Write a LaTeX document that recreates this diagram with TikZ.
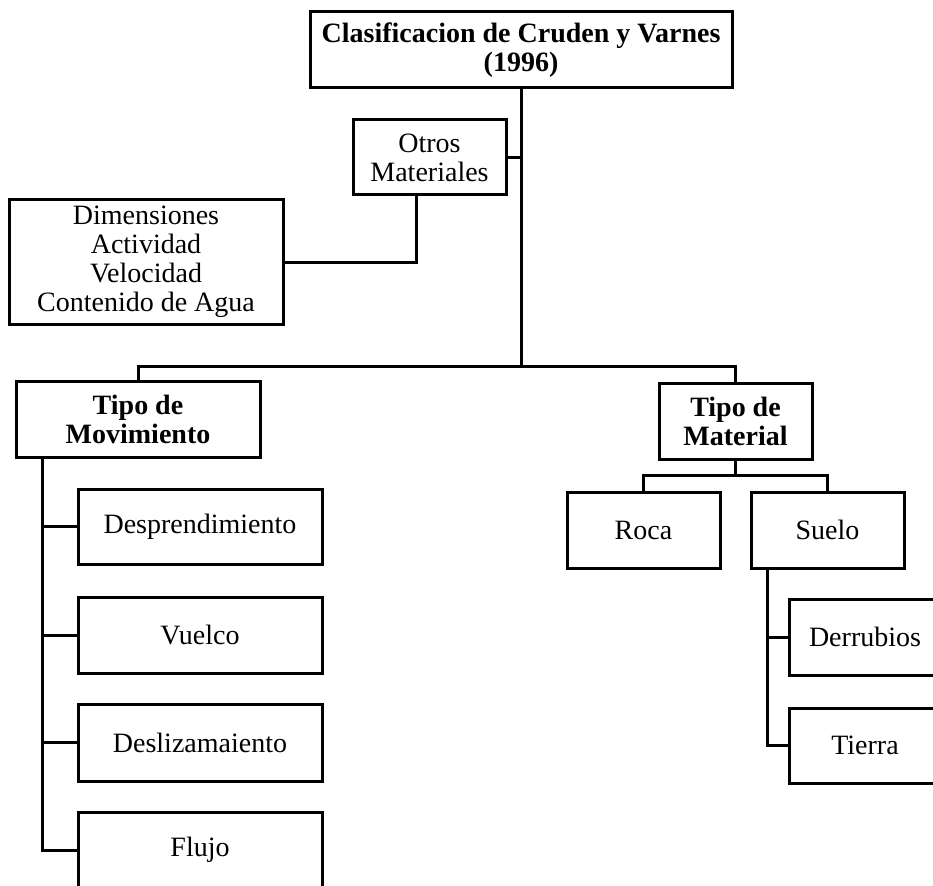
\documentclass[tikz,border=0pt]{standalone}
\usepackage{fontspec}
\setmainfont{Liberation Serif}
\usetikzlibrary{positioning}

\begin{document}
\begin{tikzpicture}[
    x=1pt, y=-1pt,
    line width=3pt,
    box/.style={rectangle, draw=black, inner sep=0pt, align=center, text centered, minimum height=76pt, font=\fontsize{28}{29}\selectfont},
    headbox/.style={box, font=\fontsize{28}{29}\selectfont\bfseries},
    itembox/.style={box, minimum width=244pt},
    smallbox/.style={box, minimum width=153pt}
]
\useasboundingbox (0,0) rectangle (933,885);

% Title
\node[headbox, minimum width=422pt] (title) at (521,50) {Clasificacion de Cruden y Varnes\\(1996)};

% Other materials
\node[smallbox, minimum height=75pt] (otros) at (429.5,157.5) {Otros\\Materiales};
\node[box, minimum width=274pt, minimum height=124pt] (dims) at (146,262) {Dimensiones\\Actividad\\Velocidad\\Contenido de Agua};

% Main branches
\node[headbox, minimum width=244pt] (mov) at (138,419) {Tipo de\\Movimiento};
\node[headbox, minimum width=153pt] (mat) at (735.5,421) {Tipo de\\Material};

% Movement types
\node[itembox, minimum height=75pt] (desp) at (200,526.5) {Desprendimiento};
\node[itembox] (vuelco) at (200,635) {Vuelco};
\node[itembox, minimum height=77pt] (desl) at (200,742.5) {Deslizamaiento};
\node[itembox] (flujo) at (200,850) {Flujo};

% Material types
\node[smallbox] (roca) at (643.5,530) {Roca};
\node[smallbox] (suelo) at (827.5,530) {Suelo};
\node[box, minimum width=152pt] (derr) at (865,637) {Derrubios};
\node[box, minimum width=152pt, minimum height=75pt] (tierra) at (865,745.5) {Tierra};

% Connectors
\coordinate (hub) at (521,366);
\draw (title.south) -- (hub);
\draw (mov.north) |- (hub) -| (mat.north);
\draw (otros.east) -- (otros.east -| title.south);
\draw (dims.east) -| ([xshift=-13.5pt]otros.south);

\coordinate (matjoin) at (735.5,475);
\draw (mat.south) -- (matjoin);
\draw (roca.north) |- (matjoin) -| (suelo.north);

\coordinate (sstem) at ([xshift=-60.5pt]suelo.south);
\draw (sstem) |- (tierra.west);
\draw (derr.west) -- (derr.west -| sstem);

\coordinate (mstem) at ([xshift=-96pt]mov.south);
\draw (mstem) |- (flujo.west);
\foreach \n in {desp,vuelco,desl}
    \draw (\n.west) -- (\n.west -| mstem);

\end{tikzpicture}
\end{document}
